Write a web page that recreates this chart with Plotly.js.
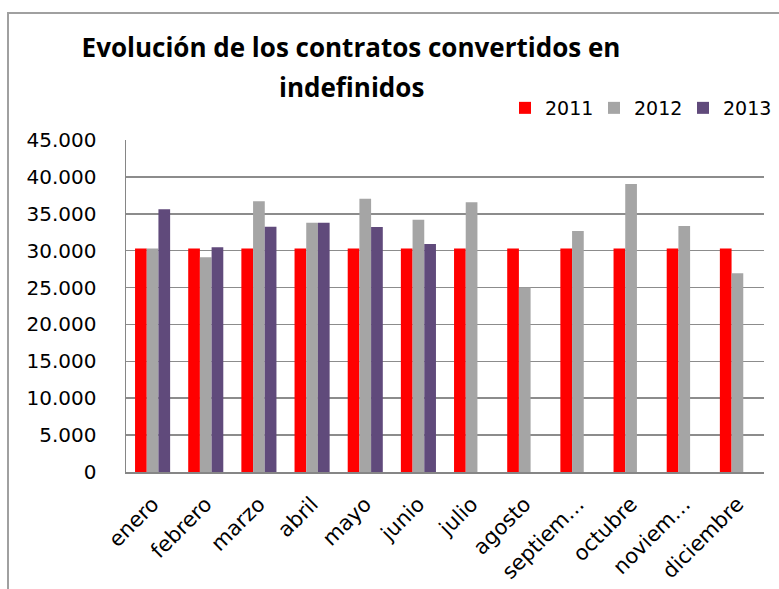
<!DOCTYPE html>
<html>
<head>
<meta charset="utf-8">
<script src="https://cdn.plot.ly/plotly-3.0.1.min.js"></script>
<style>
  html, body { margin: 0; padding: 0; background: #ffffff; }
  #chart { width: 779px; height: 589px; }
</style>
</head>
<body>
<div id="chart"></div>
<script>
const months = ["enero", "febrero", "marzo", "abril", "mayo", "junio", "julio", "agosto", "septiem…", "octubre", "noviem…", "diciembre"];
const values2011 = [30300, 30300, 30300, 30300, 30300, 30300, 30300, 30300, 30300, 30300, 30300, 30300];
const values2012 = [30300, 29100, 36700, 33800, 37050, 34200, 36550, 25000, 32650, 39050, 33350, 26950];
const values2013 = [35600, 30450, 33250, 33800, 33200, 30900, null, null, null, null, null, null];
const yTickVals = [0, 5000, 10000, 15000, 20000, 25000, 30000, 35000, 40000, 45000];
const yTickText = ["0", "5.000", "10.000", "15.000", "20.000", "25.000", "30.000", "35.000", "40.000", "45.000"];

const axisFont = { family: "DejaVu Sans, sans-serif", size: 20, color: "#000000" };
const xTickFont = { family: "DejaVu Sans, sans-serif", size: 21, color: "#000000" };
const titleFont = { family: "Open Sans, sans-serif", size: 26, color: "#000000", weight: "bold" };

const traces = [
  { type: "bar", name: "2011", x: months, y: values2011, marker: { color: "#FF0000" } },
  { type: "bar", name: "2012", x: months, y: values2012, marker: { color: "#A5A5A5" } },
  { type: "bar", name: "2013", x: months, y: values2013, marker: { color: "#604A7B" } }
];

const layout = {
  width: 779,
  height: 589,
  paper_bgcolor: "#ffffff",
  plot_bgcolor: "#ffffff",
  margin: { l: 126, r: 15, t: 140, b: 117, autoexpand: false },
  barmode: "group",
  bargap: 0.34,
  bargroupgap: 0,
  showlegend: true,
  title: {
    text: "Evolución de los contratos convertidos en",
    font: titleFont,
    x: 351 / 779, xref: "container", xanchor: "center",
    y: 1 - 48 / 589, yref: "container", yanchor: "middle"
  },
  annotations: [{
    text: "indefinidos",
    font: titleFont,
    xref: "paper", yref: "paper",
    x: (351 - 126) / 638, xanchor: "center",
    y: (472 - 87) / 332, yanchor: "middle",
    showarrow: false
  }],
  legend: {
    orientation: "h",
    xref: "container", yref: "container",
    x: 505 / 779, xanchor: "left",
    y: 1 - 108 / 589, yanchor: "middle",
    font: { family: "DejaVu Sans, sans-serif", size: 19, color: "#000000" },
    bgcolor: "rgba(0,0,0,0)",
    traceorder: "normal",
    itemwidth: 30,
    entrywidth: 44,
    entrywidthmode: "pixels"
  },
  xaxis: {
    type: "category",
    tickangle: -45,
    tickfont: xTickFont,
    showline: true,
    linecolor: "#868686",
    linewidth: 1.5,
    showgrid: false,
    ticks: "",
    ticklabelstandoff: 10
  },
  yaxis: {
    range: [0, 45000],
    autorange: false,
    tickvals: yTickVals,
    ticktext: yTickText,
    tickfont: axisFont,
    showline: true,
    linecolor: "#868686",
    linewidth: 1.5,
    showgrid: true,
    gridcolor: "#8C8C8C",
    gridwidth: 1.5,
    zeroline: false,
    ticks: "",
    ticklabelstandoff: 24
  },
  shapes: [{
    type: "path",
    xref: "paper", yref: "paper",
    path: "M " + ((8 - 126) / 638) + "," + ((472 - 600) / 332) + " L " + ((8 - 126) / 638) + "," + ((472 - 13) / 332) + " L " + ((790 - 126) / 638) + "," + ((472 - 13) / 332),
    line: { color: "#A0A0A0", width: 2 }
  }]
};

Plotly.newPlot("chart", traces, layout, { displayModeBar: false, staticPlot: true });
</script>
</body>
</html>
